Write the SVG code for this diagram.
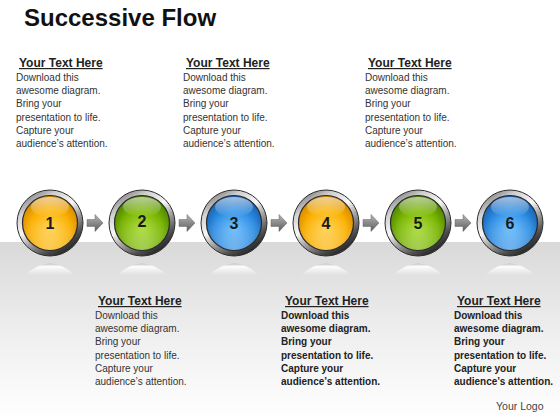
<svg xmlns="http://www.w3.org/2000/svg" width="560" height="420" viewBox="0 0 560 420">
<defs>
<style>
.title{font-family:"Liberation Sans",Arial,sans-serif;font-weight:bold;font-size:24px;fill:#111}
.hd{font-family:"Liberation Sans",Arial,sans-serif;font-weight:bold;font-size:12px;fill:#222;text-decoration:underline}
.bd{font-family:"Liberation Sans",Arial,sans-serif;font-size:10px;fill:#333}
.bb{font-family:"Liberation Sans",Arial,sans-serif;font-size:10px;font-weight:bold;fill:#222}
.num{font-family:"Liberation Sans",Arial,sans-serif;font-weight:bold;font-size:16px;fill:#1a1a1a;text-anchor:middle}
.logo{font-family:"Liberation Sans",Arial,sans-serif;font-size:10.5px;fill:#444}
.ring{fill:url(#chrome);stroke:#2e2e2e;stroke-width:1}
.inner-edge{fill:none;stroke:#2a2a2a;stroke-width:1.2}
.gloss{fill:url(#gloss)}
.glow{fill:url(#glow)}
.refl{fill:url(#refl)}
.arrow{fill:url(#arrowG);stroke:#666;stroke-width:0.5}
</style>
<linearGradient id="band" x1="0" y1="0" x2="0" y2="1">
<stop offset="0" stop-color="#d9d9d9"/>
<stop offset="0.55" stop-color="#f0f0f0"/>
<stop offset="1" stop-color="#ffffff"/>
</linearGradient>
<linearGradient id="chrome" x1="0.1" y1="0.05" x2="0.7" y2="1">
<stop offset="0" stop-color="#6e6e6e"/>
<stop offset="0.22" stop-color="#d0d0d0"/>
<stop offset="0.45" stop-color="#f8f8f8"/>
<stop offset="0.62" stop-color="#a8a8a8"/>
<stop offset="0.85" stop-color="#4a4a4a"/>
<stop offset="1" stop-color="#202020"/>
</linearGradient>
<radialGradient id="orange" cx="0.5" cy="0.6" r="0.6">
<stop offset="0" stop-color="#ffcc3a"/>
<stop offset="0.6" stop-color="#fbb000"/>
<stop offset="1" stop-color="#d08400"/>
</radialGradient>
<radialGradient id="green" cx="0.5" cy="0.6" r="0.6">
<stop offset="0" stop-color="#a0d820"/>
<stop offset="0.6" stop-color="#78b400"/>
<stop offset="1" stop-color="#4a7e00"/>
</radialGradient>
<radialGradient id="blue" cx="0.5" cy="0.6" r="0.6">
<stop offset="0" stop-color="#58b4ff"/>
<stop offset="0.6" stop-color="#2c8ce2"/>
<stop offset="1" stop-color="#165cac"/>
</radialGradient>
<linearGradient id="gloss" x1="0" y1="0" x2="0" y2="1">
<stop offset="0" stop-color="#ffffff" stop-opacity="0.6"/>
<stop offset="1" stop-color="#ffffff" stop-opacity="0"/>
</linearGradient>
<radialGradient id="glow" cx="0.5" cy="1" r="0.7">
<stop offset="0" stop-color="#ffffff" stop-opacity="0.35"/>
<stop offset="1" stop-color="#ffffff" stop-opacity="0"/>
</radialGradient>
<linearGradient id="refl" x1="0" y1="0" x2="0" y2="1">
<stop offset="0" stop-color="#bdbdbd" stop-opacity="0.9"/>
<stop offset="0.25" stop-color="#ffffff" stop-opacity="0.95"/>
<stop offset="1" stop-color="#ffffff" stop-opacity="0"/>
</linearGradient>
<linearGradient id="arrowG" x1="0" y1="0" x2="0" y2="1">
<stop offset="0" stop-color="#b5b5b5"/>
<stop offset="0.5" stop-color="#8a8a8a"/>
<stop offset="1" stop-color="#5a5a5a"/>
</linearGradient>
<g id="arrowShape"><path class="arrow" d="M0,-3.5 H8 V-8.5 L16,0 L8,8.5 V3.5 H0 Z"/></g>
</defs>

<rect x="0" y="0" width="560" height="420" fill="#ffffff"/>
<rect x="0" y="242" width="560" height="178" fill="url(#band)"/>

<text class="title" x="24" y="26">Successive Flow</text>

<g id="reflections">
<path class="refl" d="M25,275 Q50,252 75,275 Z"/>
<path class="refl" d="M117,275 Q142,252 167,275 Z"/>
<path class="refl" d="M209,275 Q234,252 259,275 Z"/>
<path class="refl" d="M301,275 Q326,252 351,275 Z"/>
<path class="refl" d="M393,275 Q418,252 443,275 Z"/>
<path class="refl" d="M485,275 Q510,252 535,275 Z"/>
</g>

<g id="connectors">
<use href="#arrowShape" x="87" y="223"/>
<use href="#arrowShape" x="179" y="223"/>
<use href="#arrowShape" x="271" y="223"/>
<use href="#arrowShape" x="363" y="223"/>
<use href="#arrowShape" x="455" y="223"/>
</g>

<g id="node1">
<circle class="ring" cx="50" cy="223" r="33"/>
<circle cx="50" cy="223" r="27.5" fill="url(#orange)"/>
<circle class="glow" cx="50" cy="223" r="27.5"/>
<circle class="inner-edge" cx="50" cy="223" r="27.5"/>
<ellipse class="gloss" cx="50" cy="207" rx="19" ry="10"/>
<text class="num" x="50" y="229">1</text>
</g>
<g id="node2">
<circle class="ring" cx="142" cy="223" r="33"/>
<circle cx="142" cy="223" r="27.5" fill="url(#green)"/>
<circle class="glow" cx="142" cy="223" r="27.5"/>
<circle class="inner-edge" cx="142" cy="223" r="27.5"/>
<ellipse class="gloss" cx="142" cy="207" rx="19" ry="10"/>
<text class="num" x="142" y="227">2</text>
</g>
<g id="node3">
<circle class="ring" cx="234" cy="223" r="33"/>
<circle cx="234" cy="223" r="27.5" fill="url(#blue)"/>
<circle class="glow" cx="234" cy="223" r="27.5"/>
<circle class="inner-edge" cx="234" cy="223" r="27.5"/>
<ellipse class="gloss" cx="234" cy="207" rx="19" ry="10"/>
<text class="num" x="234" y="229">3</text>
</g>
<g id="node4">
<circle class="ring" cx="326" cy="223" r="33"/>
<circle cx="326" cy="223" r="27.5" fill="url(#orange)"/>
<circle class="glow" cx="326" cy="223" r="27.5"/>
<circle class="inner-edge" cx="326" cy="223" r="27.5"/>
<ellipse class="gloss" cx="326" cy="207" rx="19" ry="10"/>
<text class="num" x="326" y="229">4</text>
</g>
<g id="node5">
<circle class="ring" cx="418" cy="223" r="33"/>
<circle cx="418" cy="223" r="27.5" fill="url(#green)"/>
<circle class="glow" cx="418" cy="223" r="27.5"/>
<circle class="inner-edge" cx="418" cy="223" r="27.5"/>
<ellipse class="gloss" cx="418" cy="207" rx="19" ry="10"/>
<text class="num" x="418" y="229">5</text>
</g>
<g id="node6">
<circle class="ring" cx="510" cy="223" r="33"/>
<circle cx="510" cy="223" r="27.5" fill="url(#blue)"/>
<circle class="glow" cx="510" cy="223" r="27.5"/>
<circle class="inner-edge" cx="510" cy="223" r="27.5"/>
<ellipse class="gloss" cx="510" cy="207" rx="19" ry="10"/>
<text class="num" x="510" y="229">6</text>
</g>

<g id="text1">
<text class="hd" x="19" y="67">Your Text Here</text>
<text class="bd" x="16" y="81">Download this</text>
<text class="bd" x="16" y="94">awesome diagram.</text>
<text class="bd" x="16" y="107">Bring your</text>
<text class="bd" x="16" y="121">presentation to life.</text>
<text class="bd" x="16" y="134">Capture your</text>
<text class="bd" x="16" y="147">audience’s attention.</text>
</g>
<g id="text2">
<text class="hd" x="186" y="67">Your Text Here</text>
<text class="bd" x="183" y="81">Download this</text>
<text class="bd" x="183" y="94">awesome diagram.</text>
<text class="bd" x="183" y="107">Bring your</text>
<text class="bd" x="183" y="121">presentation to life.</text>
<text class="bd" x="183" y="134">Capture your</text>
<text class="bd" x="183" y="147">audience’s attention.</text>
</g>
<g id="text3">
<text class="hd" x="368" y="67">Your Text Here</text>
<text class="bd" x="365" y="81">Download this</text>
<text class="bd" x="365" y="94">awesome diagram.</text>
<text class="bd" x="365" y="107">Bring your</text>
<text class="bd" x="365" y="121">presentation to life.</text>
<text class="bd" x="365" y="134">Capture your</text>
<text class="bd" x="365" y="147">audience’s attention.</text>
</g>
<g id="text4">
<text class="hd" x="98" y="305">Your Text Here</text>
<text class="bd" x="95" y="319">Download this</text>
<text class="bd" x="95" y="332">awesome diagram.</text>
<text class="bd" x="95" y="345">Bring your</text>
<text class="bd" x="95" y="359">presentation to life.</text>
<text class="bd" x="95" y="372">Capture your</text>
<text class="bd" x="95" y="385">audience’s attention.</text>
</g>
<g id="text5">
<text class="hd" x="285" y="305">Your Text Here</text>
<text class="bb" x="281" y="319">Download this</text>
<text class="bb" x="281" y="332">awesome diagram.</text>
<text class="bb" x="281" y="345">Bring your</text>
<text class="bb" x="281" y="359">presentation to life.</text>
<text class="bb" x="281" y="372">Capture your</text>
<text class="bb" x="281" y="385">audience’s attention.</text>
</g>
<g id="text6">
<text class="hd" x="457" y="305">Your Text Here</text>
<text class="bb" x="454" y="319">Download this</text>
<text class="bb" x="454" y="332">awesome diagram.</text>
<text class="bb" x="454" y="345">Bring your</text>
<text class="bb" x="454" y="359">presentation to life.</text>
<text class="bb" x="454" y="372">Capture your</text>
<text class="bb" x="454" y="385">audience’s attention.</text>
</g>
<text class="logo" x="496" y="410">Your Logo</text>
</svg>
